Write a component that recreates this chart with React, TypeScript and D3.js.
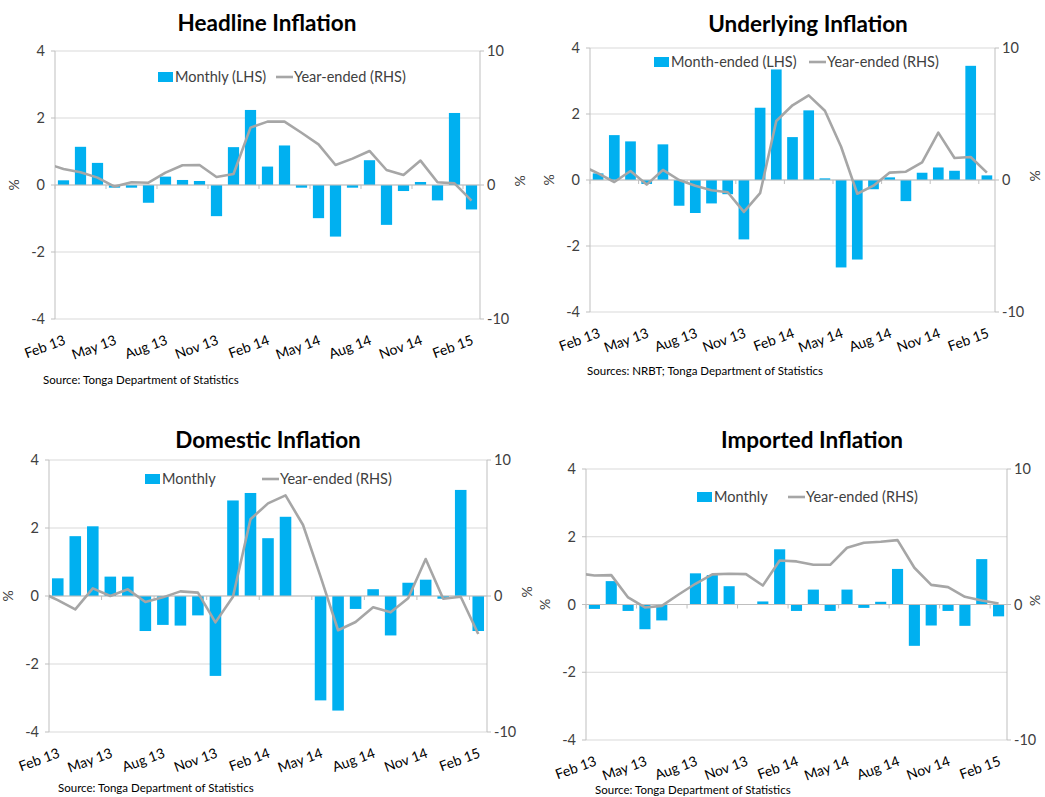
import React from 'react';
import * as d3 from 'd3';

// categories
const leadMonth = "Jan 13";
const months = [
  "Feb 13", "Mar 13", "Apr 13", "May 13", "Jun 13", "Jul 13", "Aug 13", "Sep 13", "Oct 13", "Nov 13", "Dec 13",
  "Jan 14", "Feb 14", "Mar 14", "Apr 14", "May 14", "Jun 14", "Jul 14", "Aug 14", "Sep 14", "Oct 14", "Nov 14", "Dec 14",
  "Jan 15", "Feb 15",
];
const tickMonths = ["Feb 13", "May 13", "Aug 13", "Nov 13", "Feb 14", "May 14", "Aug 14", "Nov 14", "Feb 15"];
const leftTicks = [-4, -2, 0, 2, 4];
const rightTicks = [-10, 0, 10];

// Headline
const headlineMonthly = [0.14, 1.14, 0.66, -0.08, -0.08, -0.53, 0.25, 0.15, 0.12, -0.93, 1.13, 2.24, 0.55, 1.18, -0.08, -0.99, -1.54, -0.08, 0.74, -1.19, -0.18, 0.09, -0.46, 2.15, -0.73];
const headlineYearEnded = [1.6, 1.2, 0.95, 0.55, -0.12, 0.2, 0.17, 0.92, 1.47, 1.49, 0.6, 0.82, 4.28, 4.73, 4.73, 3.9, 3.03, 1.49, 1.97, 2.54, 1.12, 0.75, 1.82, 0.2, 0.12, -1.17];

// Underlying
const underlyingMonthly = [0.2, 1.36, 1.17, -0.12, 1.08, -0.78, -1.0, -0.71, -0.43, -1.8, 2.19, 3.35, 1.3, 2.11, 0.05, -2.65, -2.41, -0.28, 0.08, -0.64, 0.22, 0.38, 0.28, 3.46, 0.14];
const underlyingYearEnded = [1.1, 0.5, -0.15, 0.68, -0.35, 0.76, 0, -0.43, -0.78, -0.93, -2.42, -1.0, 4.47, 5.66, 6.41, 5.25, 2.52, -1.04, -0.43, 0.56, 0.63, 1.34, 3.59, 1.67, 1.74, 0.56];

// Domestic
const domesticMonthly = [0.52, 1.76, 2.05, 0.57, 0.57, -1.03, -0.85, -0.87, -0.57, -2.35, 2.81, 3.03, 1.7, 2.33, 0, -3.07, -3.37, -0.38, 0.2, -1.16, 0.39, 0.48, -0.08, 3.12, -1.03];
const domesticYearEnded = [0.3, -0.3, -0.98, 0.56, 0, 0.49, -0.44, -0.1, 0.34, 0.25, -1.94, -0.05, 5.64, 6.81, 7.4, 5.22, 1.42, -2.52, -1.91, -0.83, -1.2, -0.17, 2.72, -0.2, -0.05, -2.79];

// Imported
const importedMonthly = [-0.13, 0.69, -0.19, -0.73, -0.47, 0, 0.92, 0.87, 0.54, 0, 0.09, 1.63, -0.19, 0.44, -0.19, 0.44, -0.1, 0.08, 1.05, -1.22, -0.62, -0.19, -0.63, 1.34, -0.35];
const importedYearEnded = [2.3, 2.14, 2.17, 0.52, -0.22, -0.1, 0.74, 1.53, 2.22, 2.27, 2.24, 1.4, 3.25, 3.18, 2.93, 2.93, 4.19, 4.56, 4.63, 4.75, 2.71, 1.45, 1.28, 0.57, 0.3, 0.07];

const BAR = "#00B0F0";
const LINE = "#A6A6A6";
const GRID = "#D9D9D9";
const AXIS = "#BFBFBF";
const TEXT = "#404040";
const FONT = "Lato, 'Open Sans', sans-serif";

type Box = { left: number; right: number; top: number; bottom: number };

const Panel = ({ id, title, titleX, titleY, box, monthly, yearEnded, barLabel, legend, source, sourceX, sourceY, rightPctX }: {
  id: string; title: string; titleX: number; titleY: number; box: Box;
  monthly: number[]; yearEnded: number[]; barLabel: string;
  legend: { x: number; y: number; lineX: number }; source: string; sourceX: number; sourceY: number; rightPctX?: number;
}) => {
  const { left, right, top, bottom } = box;
  const step = (right - left) / months.length;
  const x = d3.scaleBand<string>().domain([leadMonth, ...months]).range([left - step, right]).paddingInner(0);
  const bw = x.bandwidth();
  const yL = d3.scaleLinear().domain([-4, 4]).range([bottom, top]);
  const yR = d3.scaleLinear().domain([-10, 10]).range([bottom, top]);
  const lineGen = d3.line<number>()
    .x((_, i) => (x([leadMonth, ...months][i]) as number) + bw / 2)
    .y(d => yR(d));
  const zero = yL(0);

  return (
    <g fontFamily={FONT}>
      <text x={titleX} y={titleY} textAnchor="middle" fontSize={22.5} fontWeight="bold" fill="#000">{title}</text>
      <defs>
        <clipPath id={id}>
          <rect x={left} y={top} width={right - left} height={bottom - top} />
        </clipPath>
      </defs>
      {leftTicks.map(t => (
        <line key={t} x1={left} x2={right} y1={yL(t)} y2={yL(t)} stroke={GRID} strokeWidth={1} />
      ))}
      <line x1={left} x2={left} y1={top} y2={bottom} stroke={AXIS} />
      <line x1={right} x2={right} y1={top} y2={bottom} stroke={AXIS} />
      {leftTicks.map(t => (
        <g key={t}>
          <line x1={left - 4} x2={left} y1={yL(t)} y2={yL(t)} stroke={AXIS} />
          <text x={left - 10} y={yL(t) + 5} textAnchor="end" fontSize={14.5} fill={TEXT}>{t}</text>
        </g>
      ))}
      {rightTicks.map(t => (
        <g key={t}>
          <line x1={right} x2={right + 4} y1={yR(t)} y2={yR(t)} stroke={AXIS} />
          <text x={right + 7} y={yR(t) + 5} textAnchor="start" fontSize={14.5} fill={TEXT}>{t}</text>
        </g>
      ))}
      <text transform={`translate(${left - 36},${(top + bottom) / 2}) rotate(-90)`} textAnchor="middle" fontSize={14} fill={TEXT}>%</text>
      <text transform={`translate(${rightPctX ?? right + 45},${(top + bottom) / 2 - 4}) rotate(-90)`} textAnchor="middle" fontSize={14} fill={TEXT}>%</text>
      {monthly.map((v, i) => (
        <rect key={i} x={(x(months[i]) as number) + bw * 0.17} width={bw * 0.66}
          y={Math.min(yL(v), zero)} height={Math.abs(yL(v) - zero)} fill={BAR} />
      ))}
      <line x1={left} x2={right} y1={zero} y2={zero} stroke={AXIS} />
      {months.map((m, i) => i % 3 === 0 ? (
        <line key={m} x1={x(m) as number} x2={x(m) as number} y1={zero} y2={zero + 4} stroke={AXIS} />
      ) : null)}
      <path d={lineGen(yearEnded) || ""} fill="none" stroke={LINE} strokeWidth={2.6} strokeLinejoin="round" clipPath={`url(#${id})`} />
      {tickMonths.map(m => {
        const cx = (x(m) as number) + bw / 2 + 3;
        const cy = bottom + 25;
        return (
          <text key={m} transform={`translate(${cx},${cy}) rotate(-20)`} textAnchor="end" fontSize={14} fill="#000">{m}</text>
        );
      })}
      <rect x={legend.x} y={legend.y - 5} width={15} height={10} fill={BAR} />
      <text x={legend.x + 17} y={legend.y + 5} fontSize={14.5} fill={TEXT}>{barLabel}</text>
      <line x1={legend.lineX} x2={legend.lineX + 17} y1={legend.y} y2={legend.y} stroke={LINE} strokeWidth={2.6} />
      <text x={legend.lineX + 18} y={legend.y + 5} fontSize={14.5} fill={TEXT}>Year-ended (RHS)</text>
      <text x={sourceX} y={sourceY} fontSize={11.5} fill="#000">{source}</text>
    </g>
  );
};

export default function App() {
  return (
    <svg width={1045} height={797} style={{ position: 'absolute', left: 0, top: 0, background: '#fff' }}>
      <Panel id="c1" title="Headline Inflation" titleX={267} titleY={31}
        box={{ left: 55, right: 480, top: 51, bottom: 319 }}
        monthly={headlineMonthly} yearEnded={headlineYearEnded} barLabel="Monthly (LHS)"
        legend={{ x: 158, y: 77, lineX: 276 }}
        source="Source: Tonga Department of Statistics" sourceX={43} sourceY={384} />
      <Panel id="c2" title="Underlying Inflation" titleX={808} titleY={32}
        box={{ left: 590, right: 995, top: 48, bottom: 312 }}
        monthly={underlyingMonthly} yearEnded={underlyingYearEnded} barLabel="Month-ended (LHS)"
        legend={{ x: 654, y: 62, lineX: 809 }}
        source="Sources: NRBT; Tonga Department of Statistics" sourceX={587} sourceY={375} />
      <Panel id="c3" title="Domestic Inflation" titleX={268} titleY={448}
        box={{ left: 49, right: 487, top: 460, bottom: 732 }}
        monthly={domesticMonthly} yearEnded={domesticYearEnded} barLabel="Monthly"
        legend={{ x: 145, y: 479, lineX: 262 }}
        source="Source: Tonga Department of Statistics" sourceX={58} sourceY={792} />
      <Panel id="c4" title="Imported Inflation" titleX={812} titleY={448}
        box={{ left: 586, right: 1007, top: 469, bottom: 740 }}
        monthly={importedMonthly} yearEnded={importedYearEnded} barLabel="Monthly"
        legend={{ x: 697, y: 497, lineX: 788 }}
        source="Source: Tonga Department of Statistics" sourceX={595} sourceY={794} rightPctX={1040} />
    </svg>
  );
}
